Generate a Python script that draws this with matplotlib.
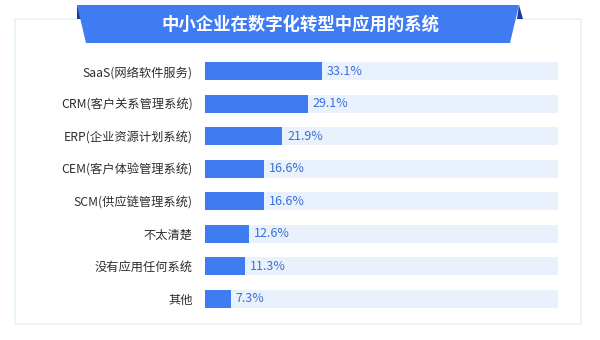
"""中小企业在数字化转型中应用的系统 - horizontal bar chart"""

import matplotlib
matplotlib.use("Agg")
import matplotlib.pyplot as plt
from matplotlib.patches import Polygon, Rectangle

plt.rcParams['font.family'] = ['Noto Sans CJK SC', 'DejaVu Sans']

# Data
title = "中小企业在数字化转型中应用的系统"
categories = ["SaaS(网络软件服务)", "CRM(客户关系管理系统)", "ERP(企业资源计划系统)",
              "CEM(客户体验管理系统)", "SCM(供应链管理系统)", "不太清楚",
              "没有应用任何系统", "其他"]
values = [33.1, 29.1, 21.9, 16.6, 16.6, 12.6, 11.3, 7.3]
track_max = 100

# Colours
BAR = "#3f7cf2"
TRACK = "#e9f1fd"
PCT = "#3a6fd8"
LABEL = "#2e2e2e"
FRAME = "#e6f3f9"
BANNER = "#3f7cf2"
FOLD = "#1b3c9e"

W, H = 600, 340
fig = plt.figure(figsize=(W / 100, H / 100), dpi=100)
fig.patch.set_facecolor("white")


def fx(px):
    return px / W


def fy(py):
    return 1 - py / H


# light frame around the chart
fig.patches.append(Rectangle((fx(15), fy(324)), fx(581) - fx(15), fy(19) - fy(324),
                             transform=fig.transFigure, fill=False,
                             edgecolor=FRAME, linewidth=1.2, zorder=0))

# title ribbon
fig.patches.append(Polygon([(fx(77), fy(5)), (fx(82), fy(19)), (fx(77), fy(19))],
                           closed=True, transform=fig.transFigure,
                           facecolor=FOLD, edgecolor="none", zorder=1))
fig.patches.append(Polygon([(fx(519), fy(5)), (fx(523), fy(19)), (fx(517), fy(19))],
                           closed=True, transform=fig.transFigure,
                           facecolor=FOLD, edgecolor="none", zorder=1))
fig.patches.append(Polygon([(fx(77), fy(5)), (fx(519), fy(5)), (fx(510), fy(43)),
                            (fx(86), fy(43))],
                           closed=True, transform=fig.transFigure,
                           facecolor=BANNER, edgecolor="none", zorder=2))
fig.text(0.5, fy(25), title, ha="center", va="center", color="white",
         fontsize=12.5, fontweight="bold", zorder=3)

# bars
ax = fig.add_axes([fx(205), fy(315), fx(558) - fx(205), fy(55) - fy(315)])
ypos = list(range(len(categories)))
ax.barh(ypos, [track_max] * len(categories), height=0.56, color=TRACK, zorder=1)
ax.barh(ypos, values, height=0.56, color=BAR, zorder=2)
for y, v in zip(ypos, values):
    ax.text(v + 1.4, y, f"{v}%", va="center", ha="left", color=PCT, fontsize=9, zorder=3)

ax.set_xlim(0, track_max)
ax.set_ylim(len(categories) - 0.5, -0.5)
ax.set_yticks(ypos)
ax.set_yticklabels(categories, fontsize=8.8, color=LABEL, fontweight="medium")
ax.tick_params(axis="y", length=0, pad=9)
ax.set_xticks([])
for s in ax.spines.values():
    s.set_visible(False)
ax.patch.set_alpha(0)

fig.savefig("out.png", dpi=100)
